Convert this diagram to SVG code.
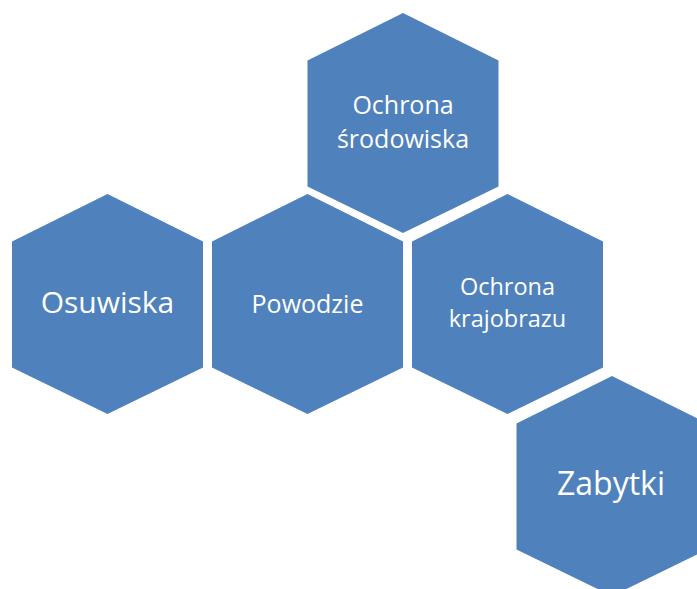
<svg xmlns="http://www.w3.org/2000/svg" xmlns:xlink="http://www.w3.org/1999/xlink" width="697" height="589" viewBox="0 0 697 589">
<style>
  .hex { fill: #4F81BD; }
  .lbl { fill: #FFFFFF; font-family: "Open Sans", "Liberation Sans", sans-serif; text-anchor: middle; }
</style>
<defs>
  <polygon id="hexshape" points="0,0 95.5,47.5 95.5,173.5 0,220 -95.5,173.5 -95.5,47.5"/>
</defs>
<rect width="697" height="589" fill="#FFFFFF"/>
<g id="connectors"></g>
<g id="ochrona-srodowiska">
  <use xlink:href="#hexshape" href="#hexshape" class="hex" x="403" y="13"/>
  <text class="lbl" font-size="25"><tspan x="403" y="114">Ochrona</tspan><tspan x="403" y="148">środowiska</tspan></text>
</g>
<g id="osuwiska">
  <use xlink:href="#hexshape" href="#hexshape" class="hex" x="107.5" y="194"/>
  <text class="lbl" x="107.5" y="313" font-size="30">Osuwiska</text>
</g>
<g id="powodzie">
  <use xlink:href="#hexshape" href="#hexshape" class="hex" x="307.5" y="194"/>
  <text class="lbl" x="307.5" y="313" font-size="25">Powodzie</text>
</g>
<g id="ochrona-krajobrazu">
  <use xlink:href="#hexshape" href="#hexshape" class="hex" x="507.5" y="194"/>
  <text class="lbl" font-size="23.5"><tspan x="507.5" y="295">Ochrona</tspan><tspan x="507.5" y="327">krajobrazu</tspan></text>
</g>
<g id="zabytki">
  <use xlink:href="#hexshape" href="#hexshape" class="hex" x="612" y="376"/>
  <text class="lbl" x="611" y="495" font-size="32">Zabytki</text>
</g>
</svg>
